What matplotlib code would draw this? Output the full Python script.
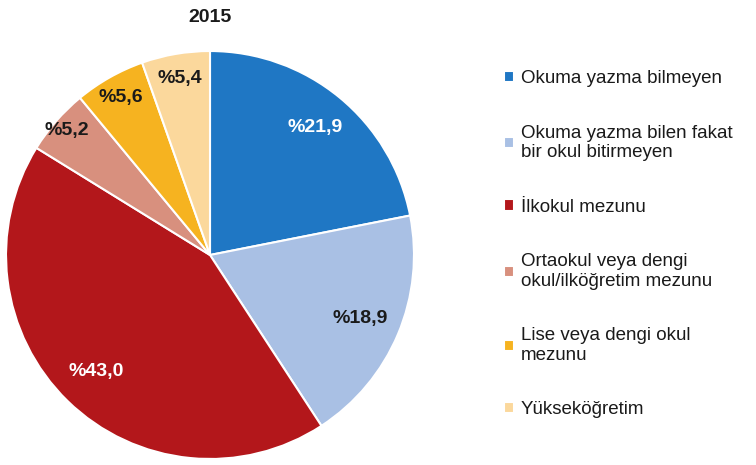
import matplotlib.pyplot as plt
import numpy as np

plt.rcParams['font.family'] = ['Liberation Sans', 'DejaVu Sans']

categories = [
    "Okuma yazma bilmeyen",
    "Okuma yazma bilen fakat\nbir okul bitirmeyen",
    "İlkokul mezunu",
    "Ortaokul veya dengi\nokul/ilköğretim mezunu",
    "Lise veya dengi okul\nmezunu",
    "Yükseköğretim",
]
values = [21.9, 18.9, 43.0, 5.2, 5.6, 5.4]
value_labels = ["%21,9", "%18,9", "%43,0", "%5,2", "%5,6", "%5,4"]
colors = ["#1f77c4", "#a9c0e4", "#b3171b", "#d8907e", "#f6b320", "#fbd89c"]
label_colors = ["white", "#1a1a1a", "white", "#1a1a1a", "#1a1a1a", "#1a1a1a"]
label_dist = [0.81, 0.80, 0.80, 0.93, 0.89, 0.88]

fig = plt.figure(figsize=(7.56, 4.65), dpi=100)
ax = fig.add_axes([5 / 756, 5 / 465, 410 / 756, 410 / 465])

wedges, _ = ax.pie(values, colors=colors, startangle=90, counterclock=False,
                   wedgeprops=dict(edgecolor="white", linewidth=1.5))
ax.set_xlim(-1.005, 1.005)
ax.set_ylim(-1.005, 1.005)
ax.set_aspect("equal")

for w, lab, c, d in zip(wedges, value_labels, label_colors, label_dist):
    ang = np.deg2rad((w.theta1 + w.theta2) / 2)
    ax.text(d * np.cos(ang), d * np.sin(ang), lab, ha="center", va="center",
            fontsize=14, fontweight="bold", color=c)

fig.text(210 / 756, 1 - 18 / 465, "2015", ha="center", va="center",
         fontsize=14, fontweight="bold", color="#1a1a1a")

leg = fig.legend(wedges, categories, loc="upper left",
                 bbox_to_anchor=(504 / 756, 1 - 70 / 465), frameon=False,
                 fontsize=13.5, labelspacing=2.0, handlelength=0.55,
                 handleheight=0.55, handletextpad=0.35, labelcolor="#1a1a1a",
                 borderaxespad=0, borderpad=0)

fig.savefig("out.png", dpi=100)
